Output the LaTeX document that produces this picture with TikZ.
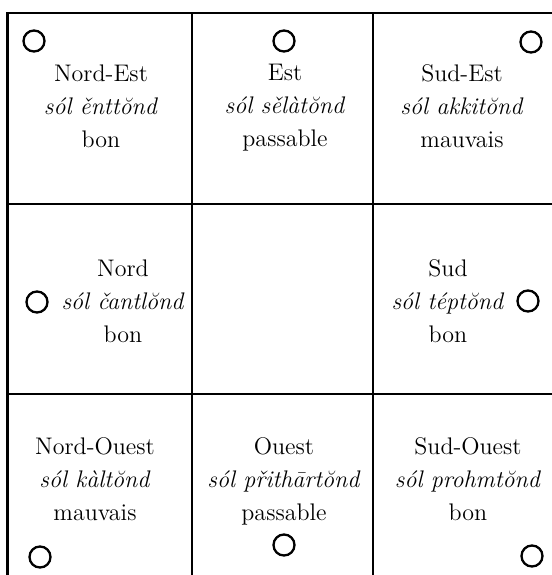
\documentclass[tikz,border=0pt]{standalone}
\usepackage{fontspec}
\usetikzlibrary{positioning}

\begin{document}
\begin{tikzpicture}[
    x=0.5pt, y=-0.5pt,
    font=\fontsize{12pt}{16.5pt}\selectfont,
    cell/.style={align=center, inner sep=0pt, anchor=north},
    hole/.style={circle, draw=black, line width=1.15pt,
                 minimum size=10.5pt, inner sep=0pt},
    frame/.style={line width=1.3pt, draw=black},
    rule/.style={line width=1pt, draw=black},
]
\useasboundingbox (0,0) rectangle (552,575);

% --- grid ---
\draw[frame] (7.5,575) -- (7.5,13) -- (552,13);
\foreach \x in {192,373}
    \draw[rule] (\x,13) -- (\x,575);
\foreach \y in {204,394}
    \draw[rule] (7.5,\y) -- (552,\y);

% --- Row 1 ---
\node[cell] (ne) at (101,64) {Nord-Est\\ \textit{sól ěnttŏnd}\\ bon};
\node[cell] (est) at (285,64) {Est\\ \textit{sól sělàtŏnd}\\ passable};
\node[cell] (se) at (462,64) {Sud-Est\\ \textit{sól akkitŏnd}\\ mauvais};
\node[hole] (hne) at (34,41) {};
\node[hole] (hest) at (284,41) {};
\node[hole] (hse) at (531,42) {};

% --- Row 2 ---
\node[cell] (nord) at (123,259) {Nord\\ \textit{sól čantlŏnd}\\ bon};
\node[cell] (sud) at (448,259) {Sud\\ \textit{sól téptŏnd}\\ bon};
\node[hole] (hnord) at (37,302) {};
\node[hole] (hsud) at (528,301) {};

% --- Row 3 ---
\node[cell] (no) at (95,437) {Nord-Ouest\\ \textit{sól kàltŏnd}\\ mauvais};
\node[cell] (ouest) at (284,437) {Ouest\\ \textit{sól přithārtŏnd}\\ passable};
\node[cell] (so) at (468,437) {Sud-Ouest\\ \textit{sól prohmtŏnd}\\ bon};
\node[hole] (hno) at (40,557) {};
\node[hole] (houest) at (284,545) {};
\node[hole] (hso) at (532,556) {};

\end{tikzpicture}
\end{document}
